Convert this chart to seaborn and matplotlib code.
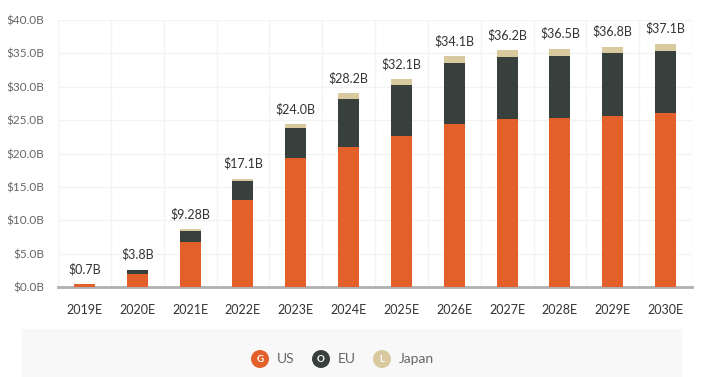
import matplotlib
matplotlib.use("Agg")
import matplotlib.pyplot as plt
from matplotlib.patches import Rectangle, Ellipse
import seaborn as sns
import pandas as pd
import numpy as np

# data (billions USD)
years = ["2019E", "2020E", "2021E", "2022E", "2023E", "2024E",
         "2025E", "2026E", "2027E", "2028E", "2029E", "2030E"]
us = [0.45, 1.95, 6.75, 13.1, 19.35, 21.0, 22.6, 24.4, 25.2, 25.4, 25.6, 26.1]
eu = [0.0, 0.7, 1.7, 2.75, 4.55, 7.25, 7.6, 9.15, 9.3, 9.25, 9.4, 9.2]
japan = [0.0, 0.0, 0.25, 0.4, 0.5, 0.8, 0.9, 1.0, 1.0, 1.05, 1.0, 1.15]
total_labels = ["$0.7B", "$3.8B", "$9.28B", "$17.1B", "$24.0B", "$28.2B",
                "$32.1B", "$34.1B", "$36.2B", "$36.5B", "$36.8B", "$37.1B"]
y_ticks = [0, 5, 10, 15, 20, 25, 30, 35, 40]

colors = {"US": "#E4602A", "EU": "#37403D", "Japan": "#D9C99F"}
legend_letters = {"US": "G", "EU": "O", "Japan": "L"}

df = pd.DataFrame({"year": years, "US": us, "EU": eu, "Japan": japan})
df["us_eu"] = df["US"] + df["EU"]
df["total"] = df["us_eu"] + df["Japan"]

sns.set_theme(style="white")
plt.rcParams["font.family"] = ["Lato", "DejaVu Sans"]

fig = plt.figure(figsize=(7.06, 3.77), dpi=100)
ax = fig.add_axes([58 / 706, 1 - 287.3 / 377, 634 / 706, 267.3 / 377])

# stacked bars drawn back to front
for col, key in [("total", "Japan"), ("us_eu", "EU"), ("US", "US")]:
    sns.barplot(data=df, x="year", y=col, color=colors[key], width=0.4,
                saturation=1, linewidth=0, ax=ax, zorder=3)

for i, lab in enumerate(total_labels):
    ax.annotate(lab, (i, df["total"][i]), xytext=(0, 11), textcoords="offset points",
                ha="center", va="center", fontsize=9, color="#333333")

ax.set_xlim(-0.5, 11.5)
ax.set_ylim(0, 40)
ax.set_yticks(y_ticks)
ax.set_yticklabels([f"${v:.1f}B" for v in y_ticks])
ax.set_xticks(np.arange(-0.5, 12, 0.5), minor=True)
ax.grid(True, which="minor", axis="x", color="#f3f3f3", linewidth=1, zorder=0)
ax.grid(True, which="major", axis="y", color="#f3f3f3", linewidth=1, zorder=0)
ax.set_xlabel("")
ax.set_ylabel("")
for s in ["top", "right", "left"]:
    ax.spines[s].set_visible(False)
ax.spines["bottom"].set_color("#b0b0b0")
ax.spines["bottom"].set_linewidth(2)
ax.tick_params(axis="y", labelsize=8.5, labelcolor="#666666", length=0, pad=10)
ax.tick_params(axis="x", labelsize=9, labelcolor="#333333", length=0, pad=12)

# legend panel
fig.add_artist(Rectangle((22 / 706, 0), 660 / 706, 48 / 377, transform=fig.transFigure,
                         facecolor="#f8f8f8", edgecolor="none", zorder=0))
ly = 1 - 359 / 377
for key, cx, tx in [("US", 260, 277), ("EU", 321, 338), ("Japan", 382, 399)]:
    fig.add_artist(Ellipse((cx / 706, ly), 18 / 706, 18 / 377, transform=fig.transFigure,
                           facecolor=colors[key], edgecolor="none"))
    fig.text(cx / 706, ly, legend_letters[key], ha="center", va="center",
             fontsize=7, color="white", fontweight="bold")
    fig.text(tx / 706, ly, key, ha="left", va="center", fontsize=10, color="#666666")

fig.savefig("out.png", dpi=100)
